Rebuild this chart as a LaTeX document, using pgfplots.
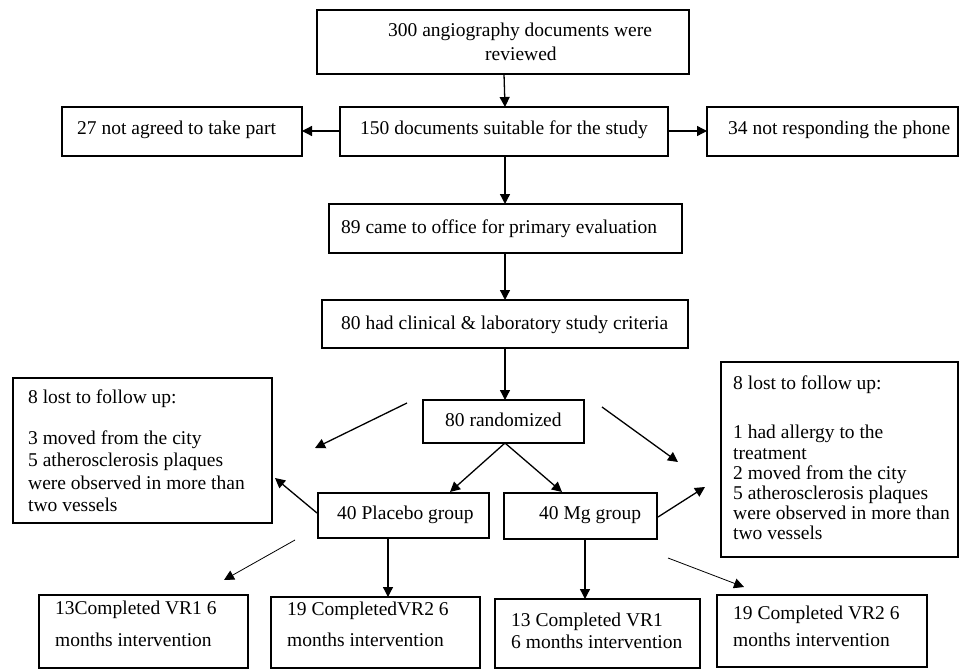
\documentclass[border=0pt]{standalone}
\usepackage{fontspec}
\setmainfont{Liberation Serif}
\usepackage{pgfplots}
\pgfplotsset{compat=1.18}
\usetikzlibrary{arrows.meta}
\newcommand\ft{\fontsize{19.5bp}{22bp}\selectfont}
\newcommand\bx[4]{\addplot[black, line width=1.3bp, line join=miter, mark=none] coordinates {(#1,#2)(#3,#2)(#3,#4)(#1,#4)(#1,#2)(#3,#2)};}
\newcommand\ar[4]{\addplot[black, line width=1.3bp, mark=none, -{Triangle[length=10bp,width=10bp]}] coordinates {(#1,#2)(#3,#4)};}
\newcommand\tar[4]{\addplot[black, line width=0.8bp, mark=none, -{Triangle[length=10bp,width=10bp]}] coordinates {(#1,#2)(#3,#4)};}
\newcommand\tx[3]{\node[anchor=base west, inner sep=0pt, font=\ft] at (axis cs:#1,#2) {#3};}
\begin{document}
\begin{tikzpicture}
\begin{axis}[width=961bp, height=669bp, scale only axis, xmin=0, xmax=961, ymin=0, ymax=669, y dir=reverse, hide axis, clip=false]
\path (axis cs:0,0) rectangle (axis cs:961,669);
% boxes
\bx{317}{10}{689}{74}
\bx{340}{107}{668}{156}
\bx{62}{107}{302}{156}
\bx{707}{107}{958}{156}
\bx{329}{204}{682}{253}
\bx{322}{300}{688}{348}
\bx{423}{400}{584}{443}
\bx{13}{378}{272}{523}
\bx{721}{362}{958}{557}
\bx{318}{493}{489}{538}
\bx{504}{493}{657}{539}
\bx{39}{595}{248}{668}
\bx{271}{597}{480}{668}
\bx{495}{599}{700}{668}
\bx{717}{595}{927}{667}
% arrows
\ar{504}{74}{505}{107}
\ar{340}{131}{302}{131}
\ar{668}{131}{707}{131}
\ar{505}{156}{505}{204}
\ar{505}{253}{505}{300}
\ar{505}{348}{505}{400}
\ar{407}{403}{315}{448}
\ar{602}{407}{678}{462}
\ar{505}{443}{450}{492}
\ar{505}{443}{562}{492}
\ar{317}{513}{275}{478}
\ar{658}{517}{705}{487}
\ar{388}{538}{388}{597}
\ar{585}{539}{585}{599}
\tar{295}{540}{224}{580}
\tar{668}{558}{744}{587}
% texts
\tx{388}{37}{300 angiography documents were}
\tx{485}{61}{reviewed}
\tx{360}{134}{150 documents suitable for the study}
\tx{77}{134}{27 not agreed to take part}
\tx{728}{134}{34 not responding the phone}
\tx{341}{233}{89 came to office for primary evaluation}
\tx{341}{329}{80 had clinical \& laboratory study criteria}
\tx{445}{426}{80 randomized}
\tx{28}{403}{8 lost to follow up:}
\tx{28}{444}{3 moved from the city}
\tx{28}{466}{5 atherosclerosis plaques}
\tx{28}{489}{were observed in more than}
\tx{28}{511}{two vessels}
\tx{733}{389}{8 lost to follow up:}
\tx{733}{438}{1 had allergy to the}
\tx{733}{459}{treatment}
\tx{733}{479}{2 moved from the city}
\tx{733}{499}{5 atherosclerosis plaques}
\tx{733}{519}{were observed in more than}
\tx{733}{539}{two vessels}
\tx{337}{519}{40 Placebo group}
\tx{539}{519}{40 Mg group}
\tx{55}{614}{13Completed VR1 6}
\tx{55}{646}{months intervention}
\tx{287}{615}{19 CompletedVR2 6}
\tx{287}{646}{months intervention}
\tx{511}{626}{13 Completed VR1}
\tx{511}{648}{6 months intervention}
\tx{733}{619}{19 Completed VR2 6}
\tx{733}{646}{months intervention}
\end{axis}
\end{tikzpicture}
\end{document}
